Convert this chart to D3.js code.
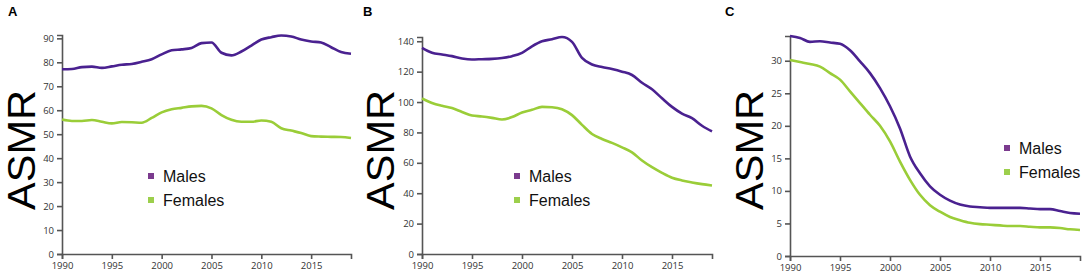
<!DOCTYPE html>
<html lang="en">

<head>
    <meta charset="UTF-8">
    <title>ASMR panels</title>
    <script src="https://d3js.org/d3.v7.min.js"></script>
    <style>
        body { margin: 0; background: #fff; }
        .tick text { font-family: "Open Sans", sans-serif; font-size: 9.5px; fill: #333; }
        .domain, .tick line { stroke: #555; stroke-width: 1.6px; }
    </style>
</head>

<body>
    <script>
        var width = 1084, height = 274;

        // data
        var years = d3.range(1990, 2020);
        var malesA = [77.1, 77.2, 78, 78.2, 77.7, 78.3, 79, 79.3, 80.2, 81.3, 83.3, 85, 85.4, 86, 88, 88.3, 84, 82.9, 84.5, 87, 89.5, 90.5, 91.2, 90.8, 89.5, 88.7, 88.3, 86.3, 84.3, 83.6];
        var femalesA = [56.1, 55.5, 55.5, 55.9, 55.2, 54.5, 55.1, 55, 54.8, 56.8, 59.1, 60.4, 61, 61.6, 61.8, 60.8, 58, 56, 55.2, 55.2, 55.7, 55.2, 52.5, 51.5, 50.5, 49.2, 49, 48.9, 48.8, 48.4];
        var malesB = [135.6, 132.4, 131.3, 130.2, 128.7, 128, 128.2, 128.4, 129, 130.2, 132.4, 136.7, 140, 141.3, 142.8, 139.6, 129, 124.7, 123, 121.7, 120, 117.8, 112.7, 108.4, 102.5, 96.8, 92.4, 89.4, 84.4, 80.7];
        var femalesB = [102.3, 99.4, 97.5, 96, 93.5, 91.1, 90.5, 89.6, 88.5, 90.1, 93.1, 94.9, 96.8, 96.6, 95.3, 91.4, 85, 79, 75.7, 73.1, 70.2, 66.9, 61.5, 57.1, 53.4, 50.2, 48.4, 47.1, 46, 45.1];
        var malesC = [33.8, 33.5, 32.9, 33, 32.8, 32.6, 31.6, 29.9, 28.1, 25.8, 23, 19.6, 15.3, 12.7, 10.7, 9.4, 8.5, 7.9, 7.6, 7.5, 7.4, 7.4, 7.4, 7.4, 7.3, 7.2, 7.2, 6.9, 6.6, 6.5];
        var femalesC = [30.1, 29.8, 29.5, 29.1, 28.1, 27.1, 25.3, 23.5, 21.7, 20, 17.6, 14.5, 11.7, 9.4, 7.8, 6.8, 6, 5.5, 5.1, 4.9, 4.8, 4.7, 4.6, 4.6, 4.5, 4.4, 4.4, 4.3, 4.1, 4.0];
        var xTicks = [1990, 1995, 2000, 2005, 2010, 2015];
        var yTicksA = d3.range(0, 91, 10);
        var yTicksB = d3.range(0, 141, 20);
        var yTicksC = d3.range(0, 31, 5);
        var seriesNames = ['Males', 'Females'];

        var lineColors = ['#4a2190', '#9acd38'];
        var keyColors = ['#7b3b8e', '#9ccf4c'];

        var svg = d3.select('body').append('svg').attr('width', width).attr('height', height);

        var panels = [
            { label: 'A', left: 62, right: 351, bottom: 254, top: 35, yMax: 91.4, ticks: yTicksA, m: malesA, f: femalesA, labelX: 8, titleX: 34.5, keyX: 148, keyY: 176 },
            { label: 'B', left: 422, right: 712, bottom: 254, top: 37, yMax: 142.8, ticks: yTicksB, m: malesB, f: femalesB, labelX: 363, titleX: 394, keyX: 514, keyY: 176 },
            { label: 'C', left: 790, right: 1080, bottom: 256, top: 36, yMax: 33.8, ticks: yTicksC, m: malesC, f: femalesC, labelX: 725, titleX: 763, keyX: 1004, keyY: 148 }
        ];

        panels.forEach(function (p) {
            var g = svg.append('g');
            var x = d3.scaleLinear().domain([1990, 2019]).range([p.left, p.right]);
            var y = d3.scaleLinear().domain([0, p.yMax]).range([p.bottom, p.top]);

            g.append('g').attr('transform', 'translate(0,' + p.bottom + ')')
                .call(d3.axisBottom(x).tickValues(xTicks).tickFormat(d3.format('d')).tickSize(5));
            g.append('g').attr('transform', 'translate(' + p.left + ',0)')
                .call(d3.axisLeft(y).tickValues(p.ticks).tickSize(5));

            var line = d3.line()
                .x(function (d, i) { return x(years[i]) })
                .y(function (d) { return y(d) })
                .curve(d3.curveMonotoneX);

            [p.m, p.f].forEach(function (s, i) {
                g.append('path').datum(s)
                    .attr('fill', 'none')
                    .attr('stroke', lineColors[i])
                    .attr('stroke-width', 2.6)
                    .attr('d', line);
            });

            // panel letter
            g.append('text').attr('x', p.labelX).attr('y', 16)
                .attr('font-family', 'Liberation Sans, Arial, sans-serif')
                .attr('font-weight', 'bold').attr('font-size', 13)
                .text(p.label);

            // y title, stretched along its length to match the reference
            g.append('text')
                .attr('transform', 'translate(' + p.titleX + ',150) rotate(-90)')
                .attr('text-anchor', 'middle')
                .attr('font-family', 'Liberation Sans, Arial, sans-serif')
                .attr('font-size', 38)
                .attr('textLength', 120)
                .attr('lengthAdjust', 'spacingAndGlyphs')
                .text('ASMR');

            // legend
            seriesNames.forEach(function (n, i) {
                var yy = p.keyY + i * 24;
                g.append('rect').attr('x', p.keyX).attr('y', yy - 3)
                    .attr('width', 6).attr('height', 6).attr('fill', keyColors[i]);
                g.append('text').attr('x', p.keyX + 15).attr('y', yy + 5.5)
                    .attr('font-family', 'Liberation Sans, Arial, sans-serif')
                    .attr('font-size', 16).attr('fill', '#111')
                    .text(n);
            });
        });
    </script>
</body>

</html>
